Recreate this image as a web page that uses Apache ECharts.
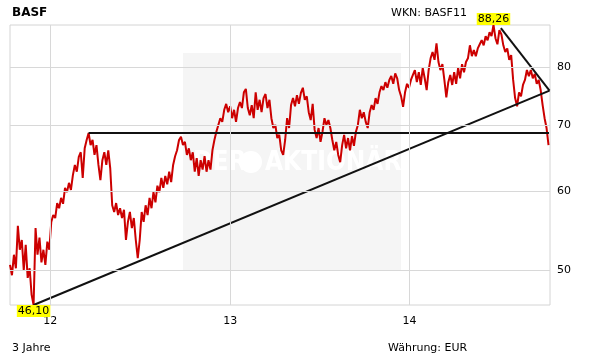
<!DOCTYPE html>
<html><head><meta charset="utf-8">
<script src="https://cdn.jsdelivr.net/npm/echarts@6/dist/echarts.min.js"></script>
<style>html,body{margin:0;padding:0;background:#fff}#c{width:611px;height:364px}</style>
</head><body><div id="c"></div>
<script>
const chartTitle = 'BASF';
const wknText = 'WKN: BASF11';
const periodText = '3 Jahre';
const currencyText = 'Währung: EUR';
const watermarkLeft = 'DER';
const watermarkRight = 'AKTIONÄR';

const axisStart = '2011-10-11';
const axisEnd = '2014-10-14';
const seriesStart = '2011-10-11';
const stepDays = 4;

const prices = [
50.6,49.4,51.8,50.2,55.4,52.4,53.6,50.0,53.0,49.1,
50.2,47.2,46.10,55.1,51.8,53.9,50.9,52.4,50.6,53.4,
52.4,55.9,56.8,56.4,58.4,57.7,59.1,58.3,60.5,59.9,
61.2,60.2,62.3,63.8,62.8,65.0,65.7,61.9,66.3,67.6,
68.7,66.8,67.6,65.3,66.8,63.8,61.6,64.5,65.7,63.8,
66.0,63.3,58.1,57.2,58.4,56.8,57.7,56.4,57.5,53.6,
55.9,57.2,55.1,56.4,53.6,51.4,53.6,57.2,55.9,58.1,
56.8,59.1,57.7,59.9,58.5,60.8,59.9,61.9,60.5,62.2,
61.0,62.8,61.3,63.8,65.1,66.0,67.6,68.1,66.8,67.3,
65.3,66.3,64.5,65.7,62.8,64.8,62.2,64.5,63.1,65.1,
62.8,64.5,63.1,66.0,67.6,68.9,70.0,71.1,70.5,72.5,
73.5,72.1,73.1,71.1,72.5,70.5,72.8,73.8,72.8,75.5,
76.1,72.8,71.6,73.3,71.1,75.5,72.5,74.2,72.1,74.5,
75.2,72.8,74.2,71.1,69.5,70.0,67.9,68.4,66.0,65.3,
67.6,71.1,69.5,73.3,74.5,73.1,75.0,73.5,75.4,76.3,
74.2,74.8,72.1,70.8,73.5,69.2,67.9,69.5,67.3,68.9,
71.1,70.0,70.8,69.5,67.6,66.0,67.3,65.3,64.2,66.8,
68.4,66.3,67.9,66.0,68.2,66.7,68.9,70.0,72.5,71.1,
72.1,70.5,69.5,72.1,73.3,72.5,74.5,73.5,75.5,76.6,
75.9,77.3,76.3,77.7,78.4,77.0,78.9,78.0,75.9,74.8,
73.0,75.5,77.0,76.3,77.7,78.6,79.5,77.3,79.1,76.8,
79.9,78.0,75.9,79.5,81.7,82.9,81.4,84.6,81.0,79.5,
80.6,77.7,74.6,77.3,78.6,76.8,79.1,77.0,79.9,78.0,
80.6,79.1,81.0,81.7,84.2,82.1,83.3,82.1,83.6,84.4,
85.2,84.2,86.0,85.2,86.8,86.0,88.26,85.6,84.4,87.2,
86.4,84.2,82.9,83.6,81.4,82.3,77.7,74.5,73.1,75.5,
74.8,76.8,77.7,79.5,78.4,79.5,78.0,78.8,77.0,77.7,
75.9,73.3,71.1,69.5,66.8
];

const yTicks = [50, 60, 70, 80];
const xTickDates = ['2012-01-01', '2013-01-01', '2014-01-01'];

const supportLine = [['2012-03-19', 68.7], ['2014-10-12', 68.7]];
const risingTrend = [['2011-11-28', 46.10], ['2014-10-13', 75.8]];
const fallingTrend = [['2014-07-06', 87.6], ['2014-10-13', 75.8]];

const yMin = 46.10, yMax = 88.26;

function ts(d){ return Date.parse(d + 'T00:00:00Z'); }
const t0 = ts(seriesStart);
const priceData = prices.map((v, i) => [t0 + i * stepDays * 864e5, v]);
const toPts = arr => arr.map(p => [ts(p[0]), p[1]]);
const fmtDE = v => v.toFixed(2).replace('.', ',');

const FONT = '"DejaVu Sans", Verdana, sans-serif';
const chart = echarts.init(document.getElementById('c'), null, {renderer: 'canvas'});

const gridLineStyle = {color: '#d8d8d8', width: 1, type: 'solid'};

chart.setOption({
  animation: false,
  backgroundColor: '#fff',
  grid: {left: 10, right: 61, top: 25, bottom: 59, show: true, borderColor: '#d4d4d4', borderWidth: 1, backgroundColor: 'transparent'},
  xAxis: {
    type: 'time', min: ts(axisStart), max: ts(axisEnd),
    axisLabel: {show: false}, axisTick: {show: false}, axisLine: {show: false}, splitLine: {show: false}
  },
  yAxis: {
    type: 'log', logBase: 10, min: yMin, max: yMax, position: 'right',
    axisLabel: {show: false}, axisTick: {show: false}, axisLine: {show: false}, splitLine: {show: false}
  },
  graphic: [
    {type: 'rect', z: -1, silent: true, shape: {x: 183, y: 53, width: 218, height: 217}, style: {fill: '#f5f5f5'}},
    {type: 'text', z: -1, silent: true, style: {text: watermarkLeft, x: 193, y: 163, fill: '#ffffff', font: 'bold 26px "DejaVu Sans Condensed", "DejaVu Sans", sans-serif', verticalAlign: 'middle'}},
    {type: 'circle', z: -1, silent: true, shape: {cx: 251, cy: 162, r: 11}, style: {fill: '#ffffff'}},
    {type: 'text', z: -1, silent: true, style: {text: watermarkRight, x: 265, y: 163, fill: '#ffffff', font: 'bold 26px "DejaVu Sans Condensed", "DejaVu Sans", sans-serif', verticalAlign: 'middle'}},
    {type: 'text', style: {text: chartTitle, x: 12, y: 13, fill: '#000', font: 'bold 12px ' + FONT, verticalAlign: 'middle'}},
    {type: 'text', style: {text: wknText, x: 391, y: 13, fill: '#000', font: '11px ' + FONT, verticalAlign: 'middle'}},
    {type: 'text', style: {text: periodText, x: 12, y: 348, fill: '#000', font: '11px ' + FONT, verticalAlign: 'middle'}},
    {type: 'text', style: {text: currencyText, x: 388, y: 348, fill: '#000', font: '11px ' + FONT, verticalAlign: 'middle'}}
  ],
  series: [
    {
      name: 'grid', type: 'line', data: [], z: 1, silent: true,
      markLine: {
        silent: true, symbol: 'none', animation: false,
        lineStyle: gridLineStyle,
        data: [
          ...yTicks.map(v => ({yAxis: v, label: {position: 'end', distance: 7, formatter: String(v), color: '#000', fontSize: 11, fontFamily: FONT}})),
          ...xTickDates.map(d => ({xAxis: ts(d), label: {position: 'start', distance: 11, formatter: d.slice(2, 4), color: '#000', fontSize: 11, fontFamily: FONT}}))
        ]
      }
    },
    {
      name: 'BASF', type: 'line', data: priceData, z: 2,
      symbol: 'none', lineStyle: {color: '#cc0000', width: 2}, itemStyle: {color: '#cc0000'},
      markPoint: {
        symbol: 'rect', symbolSize: 0, silent: true, animation: false,
        data: [
          {type: 'max', label: {position: 'top', distance: 0}},
          {type: 'min', label: {position: 'bottom', distance: 0}}
        ],
        label: {show: true, color: '#000', fontSize: 11, fontFamily: FONT, backgroundColor: '#ffff00', padding: [1, 1, 0, 1], formatter: p => fmtDE(p.value)}
      }
    },
    {name: 'support', type: 'line', data: toPts(supportLine), z: 3, symbol: 'none', silent: true, lineStyle: {color: '#111', width: 2}},
    {name: 'rising', type: 'line', data: toPts(risingTrend), z: 3, symbol: 'none', silent: true, lineStyle: {color: '#111', width: 2}},
    {name: 'falling', type: 'line', data: toPts(fallingTrend), z: 3, symbol: 'none', silent: true, lineStyle: {color: '#111', width: 2}}
  ]
});
</script>
</body></html>
